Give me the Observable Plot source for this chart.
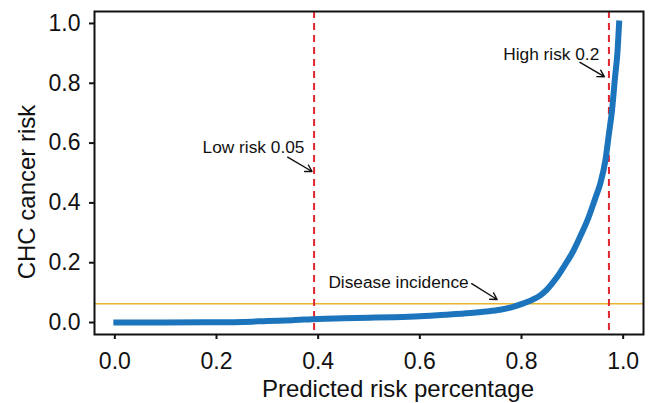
<!DOCTYPE html>
<html>
<head>
<meta charset="utf-8">
<script src="https://cdn.jsdelivr.net/npm/d3@7"></script>
<script src="https://cdn.jsdelivr.net/npm/@observablehq/plot@0.6"></script>
<style>
  html, body { margin: 0; padding: 0; background: white; }
</style>
</head>
<body>
<div id="chart"></div>
<script>
// Curve: predicted risk percentage (x) vs CHC cancer risk (y)
const riskX = [0.003, 0.1, 0.2, 0.25, 0.3, 0.35, 0.4, 0.45, 0.5, 0.55, 0.6, 0.65, 0.7, 0.73, 0.758, 0.78, 0.804, 0.82, 0.837, 0.85, 0.86, 0.87, 0.879, 0.89, 0.899, 0.915, 0.932, 0.945, 0.955, 0.965, 0.972, 0.978, 0.984, 0.989, 0.992];
const riskY = [0, 0, 0.001, 0.002, 0.005, 0.008, 0.012, 0.014, 0.016, 0.018, 0.021, 0.026, 0.032, 0.037, 0.043, 0.051, 0.064, 0.075, 0.091, 0.11, 0.13, 0.152, 0.175, 0.205, 0.23, 0.286, 0.352, 0.415, 0.465, 0.542, 0.631, 0.709, 0.82, 0.909, 1.0];

// Thresholds
const thresholdX = [0.392, 0.972];   // low risk 0.05, high risk 0.2
const incidenceY = [0.063];          // disease incidence

// Tick values
const xTicks = [0, 0.2, 0.4, 0.6, 0.8, 1.0];
const yTicks = [0, 0.2, 0.4, 0.6, 0.8, 1.0];

// Annotations
const noteLabels = ["Low risk 0.05", "High risk 0.2", "Disease incidence"];
const noteX = [0.373, 0.953, 0.696];
const noteY = [0.586, 0.898, 0.1335];
const arrowX1 = [0.340, 0.915, 0.702];
const arrowY1 = [0.553, 0.870, 0.130];
const arrowX2 = [0.388, 0.963, 0.752];
const arrowY2 = [0.505, 0.822, 0.077];

const curve = riskX.map((x, i) => ({x, y: riskY[i]}));
const notes = noteLabels.map((label, i) => ({label, x: noteX[i], y: noteY[i]}));
const arrows = noteLabels.map((label, i) => ({x1: arrowX1[i], y1: arrowY1[i], x2: arrowX2[i], y2: arrowY2[i]}));

const fmt = d3.format(".1f");

const chart = Plot.plot({
  width: 650,
  height: 403,
  marginLeft: 94,
  marginRight: 7,
  marginTop: 11,
  marginBottom: 69,
  style: {fontFamily: "'Liberation Sans', Arial, Helvetica, sans-serif", fontSize: "23px", color: "#111", background: "white"},
  x: {domain: [-0.04, 1.04]},
  y: {domain: [-0.04, 1.04]},
  marks: [
    Plot.ruleY(incidenceY, {stroke: "#e8b52a", strokeWidth: 1.5}),
    Plot.ruleX(thresholdX, {stroke: "#e0262f", strokeWidth: 2, strokeDasharray: "7,5"}),
    Plot.line(curve, {x: "x", y: "y", stroke: "#1c75bc", strokeWidth: 6, strokeLinecap: "square", curve: "monotone-x"}),
    Plot.text(notes, {x: "x", y: "y", text: "label", textAnchor: "end", fontSize: 17.3, fill: "#111"}),
    Plot.arrow(arrows, {x1: "x1", y1: "y1", x2: "x2", y2: "y2", stroke: "#111", strokeWidth: 1.4, headLength: 8}),
    Plot.frame({stroke: "#111", strokeWidth: 2}),
    Plot.axisX({ticks: xTicks, tickFormat: fmt, tickSize: 5, tickPadding: 13.5, strokeWidth: 2, label: null}),
    Plot.axisY({ticks: yTicks, tickFormat: fmt, tickSize: 5, tickPadding: 9, strokeWidth: 2, label: null}),
    Plot.text(["Predicted risk percentage"], {frameAnchor: "bottom", lineAnchor: "middle", textAnchor: "middle", dx: 29, dy: 55, fontSize: 24, fill: "#111"}),
    Plot.text(["CHC cancer risk"], {frameAnchor: "left", lineAnchor: "middle", textAnchor: "middle", rotate: -90, dx: -67, dy: 19, fontSize: 24, fill: "#111"})
  ]
});

document.getElementById("chart").appendChild(chart);
</script>
</body>
</html>
